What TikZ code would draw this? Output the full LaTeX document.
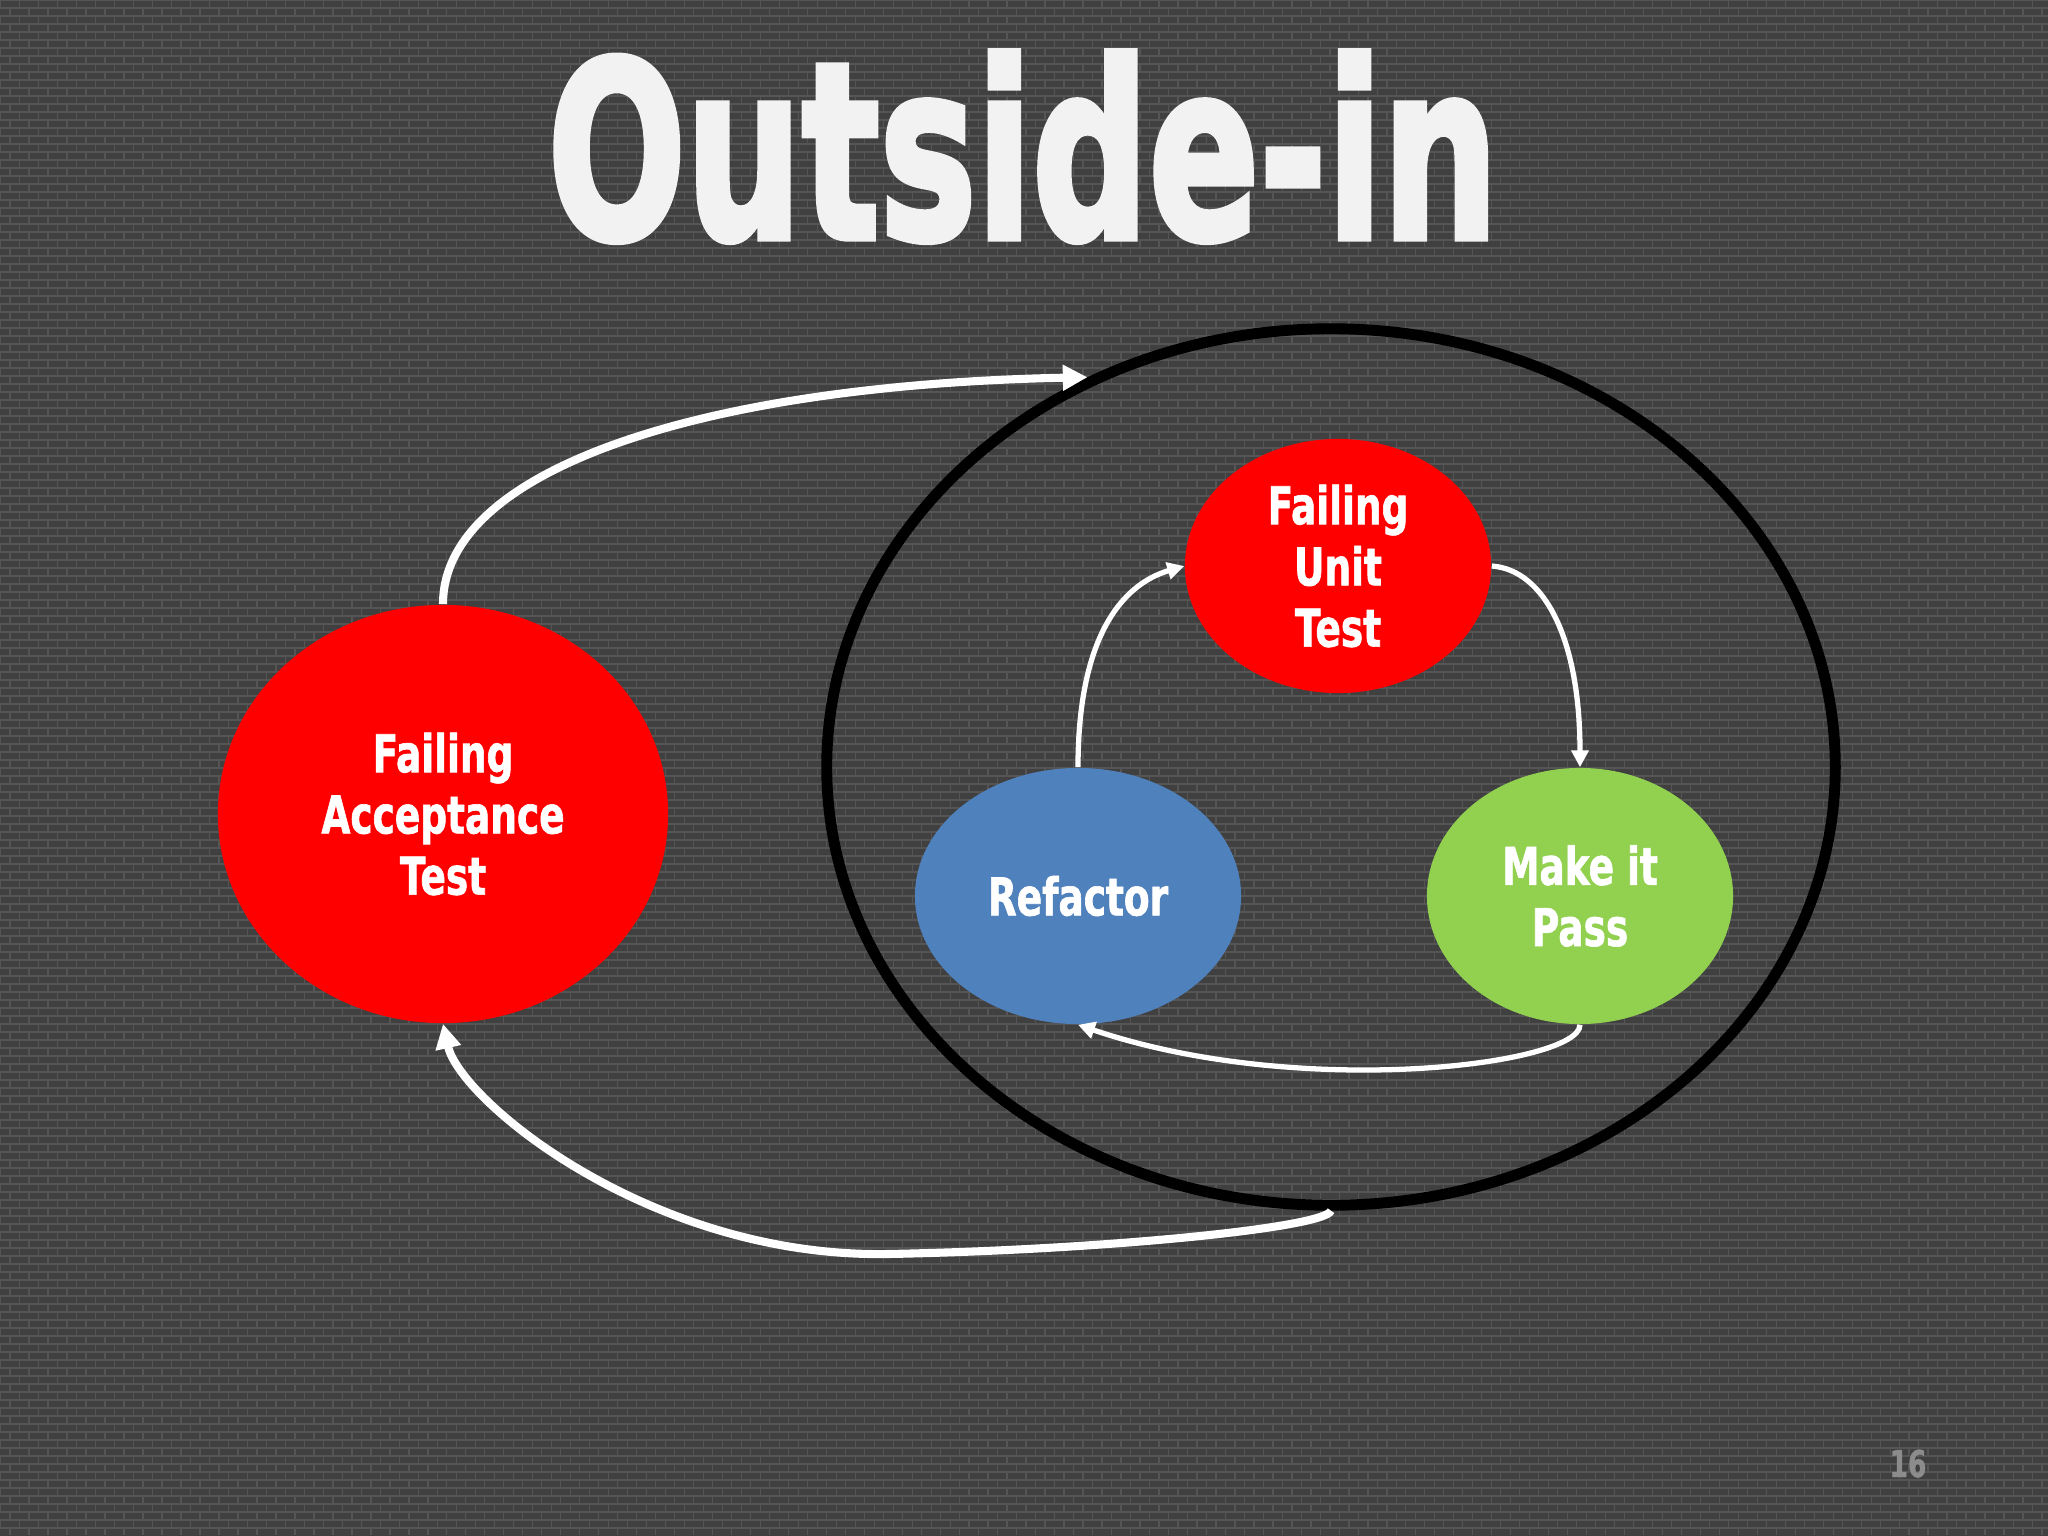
\documentclass[tikz,border=0pt]{standalone}
\usepackage{fontspec}
\usepackage{graphicx}
\usetikzlibrary{shapes.geometric,arrows.meta}
\newfontfamily\impact[FakeStretch=0.72,FakeBold=1.2]{DejaVu Sans Bold}
\newfontfamily\impacttitle[FakeBold=3]{DejaVu Sans Bold}
\definecolor{bg}{HTML}{404040}
\definecolor{mortar}{HTML}{555555}
\definecolor{tred}{HTML}{FF0000}
\definecolor{tblue}{HTML}{4F81BD}
\definecolor{tgreen}{HTML}{92D050}
\definecolor{titlegray}{HTML}{F2F2F2}
\definecolor{pagegray}{HTML}{8C8C8C}
\begin{document}
\begin{tikzpicture}[x=0.01cm,y=-0.01cm,
  bubble/.style={ellipse, inner sep=0pt, text=white, align=center,
    font=\impact\fontsize{14.8pt}{17.4pt}\selectfont},
  bigarrow/.style={draw=white, line width=2.3pt, -{Triangle[length=7pt,width=7pt]}},
  smallarrow/.style={draw=white, line width=1.5pt, -{Triangle[length=4.8pt,width=4.8pt]}}
]
\useasboundingbox (0,0) rectangle (2048,1536);
\fill[bg] (0,0) rectangle (2048,1536);
% brick texture
\foreach \r in {0,...,191}{
  \pgfmathsetmacro\ph{mod(\r,2)*2.7}
  \draw[mortar, line width=1.9pt, dash pattern=on 0.35pt off 5.05pt, dash phase=\ph pt]
    (0,\r*8+4) -- (2048,\r*8+4);
  \draw[mortar, line width=0.35pt] (0,\r*8) -- (2048,\r*8);
}
% title and page number
\node[text=titlegray, inner sep=0pt, anchor=base] (title) at (1023,238)
  {\resizebox{9.50cm}{1.86cm}{\impacttitle Outside-in}};
\node[text=pagegray, inner sep=0pt, anchor=base,
  font=\impact\fontsize{10.5pt}{11pt}\selectfont] (pg) at (1908,1477) {16};
% shapes
\node[ellipse, draw=black, line width=3.1pt, inner sep=0pt,
  minimum width=10.08cm, minimum height=8.76cm] (big) at (1331,767) {};
\node[bubble, fill=tred, minimum width=4.50cm, minimum height=4.18cm] (acc) at (443,814)
  {Failing\\Acceptance\\Test};
\node[bubble, fill=tred, minimum width=3.06cm, minimum height=2.54cm] (fut) at (1338,566)
  {Failing\\Unit\\Test};
\node[bubble, fill=tblue, minimum width=3.26cm, minimum height=2.56cm] (ref) at (1078,896)
  {Refactor};
\node[bubble, fill=tgreen, minimum width=3.06cm, minimum height=2.56cm] (pass) at (1580,896)
  {Make it\\Pass};
% connectors
\draw[bigarrow] (acc.north) .. controls (443,470) and (700,385) .. (big.122);
\draw[bigarrow] (big.south) .. controls (1325,1228) and (1100,1250) .. (888,1254)
  .. controls (650,1258) and (460,1100) .. (acc.south);
\draw[smallarrow] (ref.north) .. controls (1078,640) and (1120,585) .. (fut.west);
\draw[smallarrow] (fut.east) .. controls (1545,570) and (1580,640) .. (pass.north);
\draw[smallarrow] (pass.south) .. controls (1580,1065) and (1300,1100) .. (ref.south);
\end{tikzpicture}
\end{document}
